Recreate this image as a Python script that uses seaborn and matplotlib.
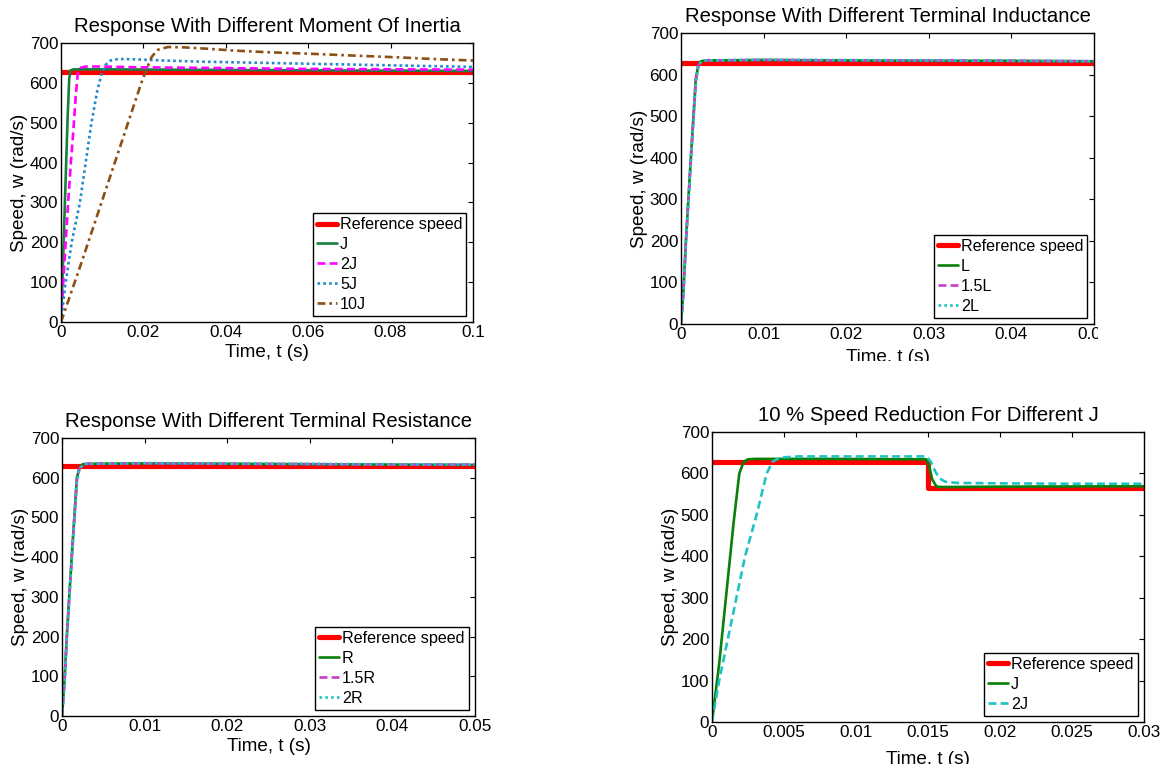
import matplotlib
matplotlib.use("Agg")
import matplotlib.pyplot as plt
import seaborn as sns
from matplotlib.transforms import Bbox

# ---- panel 1: different moment of inertia (t in s, w in rad/s)
t_ref_inertia = [0, 0.1]
w_ref_inertia = [628.3, 628.3]
t_j = [0, 0.0004, 0.0008, 0.0012, 0.0016, 0.002, 0.0023, 0.003, 0.01, 0.03, 0.05, 0.07, 0.1]
w_j = [0, 120, 250, 380, 510, 610, 631, 634, 634, 633, 632, 631, 630]
t_2j = [0, 0.0006, 0.0012, 0.0018, 0.0024, 0.003, 0.0036, 0.0041, 0.0048, 0.006, 0.01, 0.02, 0.04, 0.06, 0.08, 0.1]
w_2j = [0, 110, 210, 310, 400, 480, 570, 625, 638, 641, 641, 639, 637, 635, 634, 633]
t_5j = [0, 0.001, 0.0026, 0.0046, 0.006, 0.0074, 0.0088, 0.0098, 0.0108, 0.012, 0.014, 0.018, 0.025, 0.035, 0.05, 0.065, 0.08, 0.1]
w_5j = [0, 90, 200, 300, 400, 500, 580, 620, 645, 656, 660, 659, 656, 653, 650, 647, 644, 640]
t_10j = [0, 0.005, 0.01, 0.015, 0.0195, 0.021, 0.022, 0.0235, 0.026, 0.03, 0.035, 0.042, 0.05, 0.063, 0.072, 0.082, 0.09, 0.1]
w_10j = [0, 150, 305, 460, 600, 640, 665, 683, 690, 689, 686, 681, 677, 672, 668, 664, 660, 656]

# ---- panel 2: different terminal inductance
t_ref_l = [0, 0.05]
w_ref_l = [628.3, 628.3]
t_l = [0, 0.0003, 0.0006, 0.0012, 0.0018, 0.0021, 0.0024, 0.003, 0.01, 0.02, 0.03, 0.04, 0.05]
w_l = [0, 80, 200, 400, 590, 622, 632, 634, 635, 634, 633, 633, 632]
w_15l = [0, 75, 195, 395, 585, 620, 631, 634, 635, 634, 634, 633, 632]
w_2l = [0, 70, 190, 390, 580, 618, 630, 634, 636, 635, 634, 633, 632]

# ---- panel 3: different terminal resistance
t_ref_r = [0, 0.05]
w_ref_r = [628.3, 628.3]
t_r = [0, 0.0003, 0.0006, 0.0012, 0.0018, 0.0021, 0.0025, 0.003, 0.01, 0.02, 0.03, 0.04, 0.05]
w_r = [0, 90, 210, 410, 600, 625, 634, 635, 636, 635, 634, 633, 632]
w_15r = [0, 85, 205, 405, 595, 623, 633, 635, 636, 635, 634, 633, 633]
w_2r = [0, 80, 200, 400, 590, 620, 632, 635, 637, 636, 635, 634, 633]

# ---- panel 4: 10 % speed reduction
t_ref_step = [0, 0.015, 0.015, 0.03]
w_ref_step = [628.3, 628.3, 565.5, 565.5]
t_step_j = [0, 0.0005, 0.001, 0.0015, 0.0019, 0.0022, 0.0025, 0.003, 0.008, 0.0149, 0.0151, 0.0153, 0.0156, 0.016, 0.02, 0.03]
w_step_j = [0, 140, 310, 480, 600, 628, 634, 635, 635, 634, 615, 585, 568, 567, 568, 569]
t_step_2j = [0, 0.0005, 0.0011, 0.0017, 0.0023, 0.0031, 0.0038, 0.0042, 0.0047, 0.006, 0.01, 0.0149, 0.0152, 0.0155, 0.0158, 0.0162, 0.017, 0.02, 0.025, 0.03]
w_step_2j = [0, 100, 200, 300, 400, 500, 600, 628, 638, 641, 641, 641, 628, 605, 588, 580, 577, 576, 575, 575]

yticks = [0, 100, 200, 300, 400, 500, 600, 700]
xticks_01 = [0, 0.02, 0.04, 0.06, 0.08, 0.1]
xlabels_01 = ['0', '0.02', '0.04', '0.06', '0.08', '0.1']
xticks_005 = [0, 0.01, 0.02, 0.03, 0.04, 0.05]
xlabels_005 = ['0', '0.01', '0.02', '0.03', '0.04', '0.05']
xticks_003 = [0, 0.005, 0.01, 0.015, 0.02, 0.025, 0.03]
xlabels_003 = ['0', '0.005', '0.01', '0.015', '0.02', '0.025', '0.03']

sns.set_style("white")
plt.rcParams['font.family'] = ['Liberation Sans', 'DejaVu Sans']
plt.rcParams['text.color'] = 'black'
plt.rcParams['axes.labelcolor'] = 'black'
plt.rcParams['xtick.direction'] = 'in'
plt.rcParams['ytick.direction'] = 'in'
plt.rcParams['xtick.top'] = True
plt.rcParams['ytick.right'] = True

LW = 1.9
REF_LW = 3.7
DOT = (0, (1.0, 1.2))
DASH = (0, (3.0, 1.6))
DASHDOT = (0, (3.0, 1.5, 1.0, 1.5))


def line(ax, t, w, color, ls, label, lw=LW):
    sns.lineplot(x=t, y=w, ax=ax, color=color, linestyle=ls, linewidth=lw,
                 label=label, estimator=None, sort=False)


def style_axes(ax, title, xticks, xlabels, xmax, xpad):
    ax.set_xlim(0, xmax)
    ax.set_ylim(0, 700)
    ax.set_xticks(xticks)
    ax.set_xticklabels(xlabels)
    ax.set_yticks(yticks)
    ax.tick_params(labelsize=12.3, length=3.5, width=0.8, pad=2.0, colors='black')
    for s in ax.spines.values():
        s.set_color('black')
        s.set_linewidth(1.0)
        s.set_visible(True)
    ax.set_title(title, fontsize=14.6, pad=8, color='black')
    ax.set_xlabel('Time, t (s)', fontsize=13.6, labelpad=xpad)
    ax.set_ylabel('Speed, w (rad/s)', fontsize=13.6, labelpad=1)
    leg = ax.legend(loc='lower right', fontsize=11.6, fancybox=False, edgecolor='black',
                    framealpha=1, handlelength=1.25, handletextpad=0.2, labelspacing=0.3,
                    borderpad=0.25, borderaxespad=0.4)
    leg.get_frame().set_linewidth(1.0)


fig = plt.figure(figsize=(11.66, 7.64), dpi=100)
ax1 = fig.add_axes([0.0523, 0.5785, 0.3533, 0.3652])
ax2 = fig.add_axes([0.5840, 0.5759, 0.3542, 0.3809])
ax3 = fig.add_axes([0.0532, 0.0628, 0.3542, 0.3639])
ax4 = fig.add_axes([0.6106, 0.0550, 0.3705, 0.3796])

line(ax1, t_ref_inertia, w_ref_inertia, '#ff0000', '-', 'Reference speed', REF_LW)
line(ax1, t_j, w_j, '#17803d', '-', 'J')
line(ax1, t_2j, w_2j, '#ff00ff', DASH, '2J')
line(ax1, t_5j, w_5j, '#2288cc', DOT, '5J')
line(ax1, t_10j, w_10j, '#8c5014', DASHDOT, '10J')
style_axes(ax1, 'Response With Different Moment Of Inertia', xticks_01, xlabels_01, 0.1, 3)

line(ax2, t_ref_l, w_ref_l, '#ff0000', '-', 'Reference speed', REF_LW)
line(ax2, t_l, w_l, '#0a800a', '-', 'L')
line(ax2, t_l, w_15l, '#c83cc8', DASH, '1.5L')
line(ax2, t_l, w_2l, '#1ec4c4', DOT, '2L')
style_axes(ax2, 'Response With Different Terminal Inductance', xticks_005, xlabels_005, 0.05, 5)

line(ax3, t_ref_r, w_ref_r, '#ff0000', '-', 'Reference speed', REF_LW)
line(ax3, t_r, w_r, '#0a800a', '-', 'R')
line(ax3, t_r, w_15r, '#c83cc8', DASH, '1.5R')
line(ax3, t_r, w_2r, '#1ec4c4', DOT, '2R')
style_axes(ax3, 'Response With Different Terminal Resistance', xticks_005, xlabels_005, 0.05, 3)

line(ax4, t_ref_step, w_ref_step, '#ff0000', '-', 'Reference speed', REF_LW)
line(ax4, t_step_j, w_step_j, '#0a800a', '-', 'J')
line(ax4, t_step_2j, w_step_2j, '#1ec4c4', DASH, '2J')
style_axes(ax4, '10 % Speed Reduction For Different J', xticks_003, xlabels_003, 0.03, 8)

# the top-right panel was cropped in the source figure
clip = Bbox.from_extents(560, 764 - 361, 1098, 764)
for lab in ax2.get_xticklabels() + [ax2.xaxis.label]:
    lab.set_clip_box(clip)
    lab.set_clip_on(True)

fig.savefig('out.png', dpi=100)
